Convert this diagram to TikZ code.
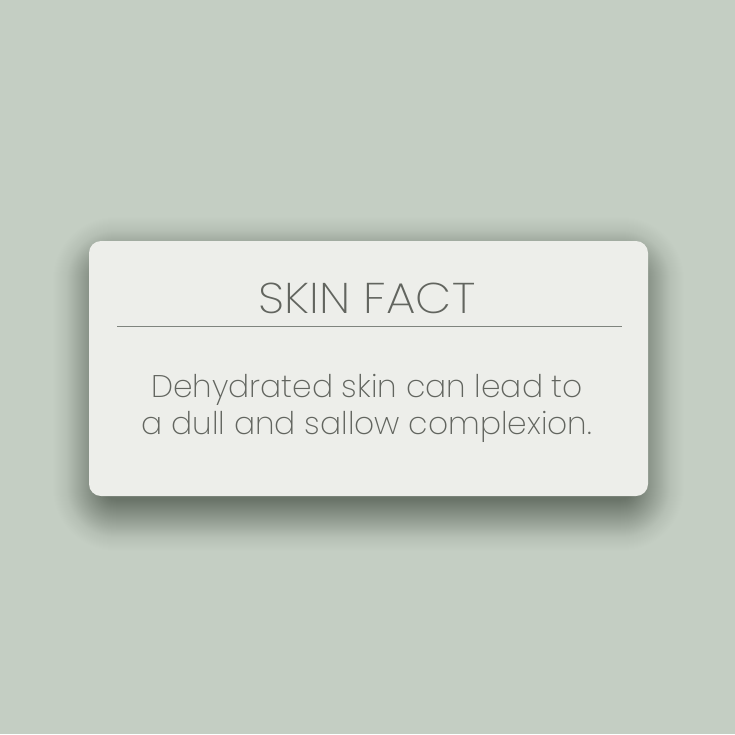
\documentclass[tikz,border=0pt]{standalone}
\usepackage{fontspec}
\setmainfont{Poppins ExtraLight}
\newfontfamily\widefont[FakeStretch=1.09]{Poppins ExtraLight}
\definecolor{sage}{HTML}{C4CEC3}
\definecolor{cardfill}{HTML}{EDEEEA}
\definecolor{shade}{HTML}{4A5548}
\definecolor{ink}{HTML}{62655F}
\definecolor{rulecol}{HTML}{7F847E}
\tikzset{ card/.style = { rounded corners = 12pt
                        , fill = cardfill
                        }
        , shadowlayer/.style = { fill = shade
                               , opacity = #1
                               }
        , title/.style = { text = ink
                         , inner sep = 0pt
                         , anchor = base
                         , font = \widefont\fontsize{43}{43}\selectfont
                         }
        , body/.style = { text = ink
                        , inner sep = 0pt
                        , anchor = base
                        , font = \fontsize{31.3}{37}\selectfont
                        }
        }
\begin{document}
\begin{tikzpicture}[x=1pt, y=-1pt]
    \fill[sage] (0,0) rectangle (735,734);
    \useasboundingbox (0,0) rectangle (735,734);
    % soft shadow under the card
    \foreach \e [evaluate = \e as \a using 0.03*(1-\e/55)] in {54,53,...,0} {
        \fill[shadowlayer = \a, rounded corners = 12pt + \e pt]
            (104-\e, 268-\e) rectangle (633+\e, 500+\e);
    }
    \fill[card] (89,241) rectangle (648,496);
    \node[title] (title) at (367,313) {SKIN FACT};
    \coordinate (ruleL) at (117,326);
    \coordinate (ruleR) at (622,326);
    \draw[rulecol, line width = 1pt] (ruleL) -- (ruleR);
    \node[body] (line1) at (367,397) {Dehydrated skin can lead to};
    \node[body] (line2) at (367,434) {a dull and sallow complexion.};
\end{tikzpicture}
\end{document}
